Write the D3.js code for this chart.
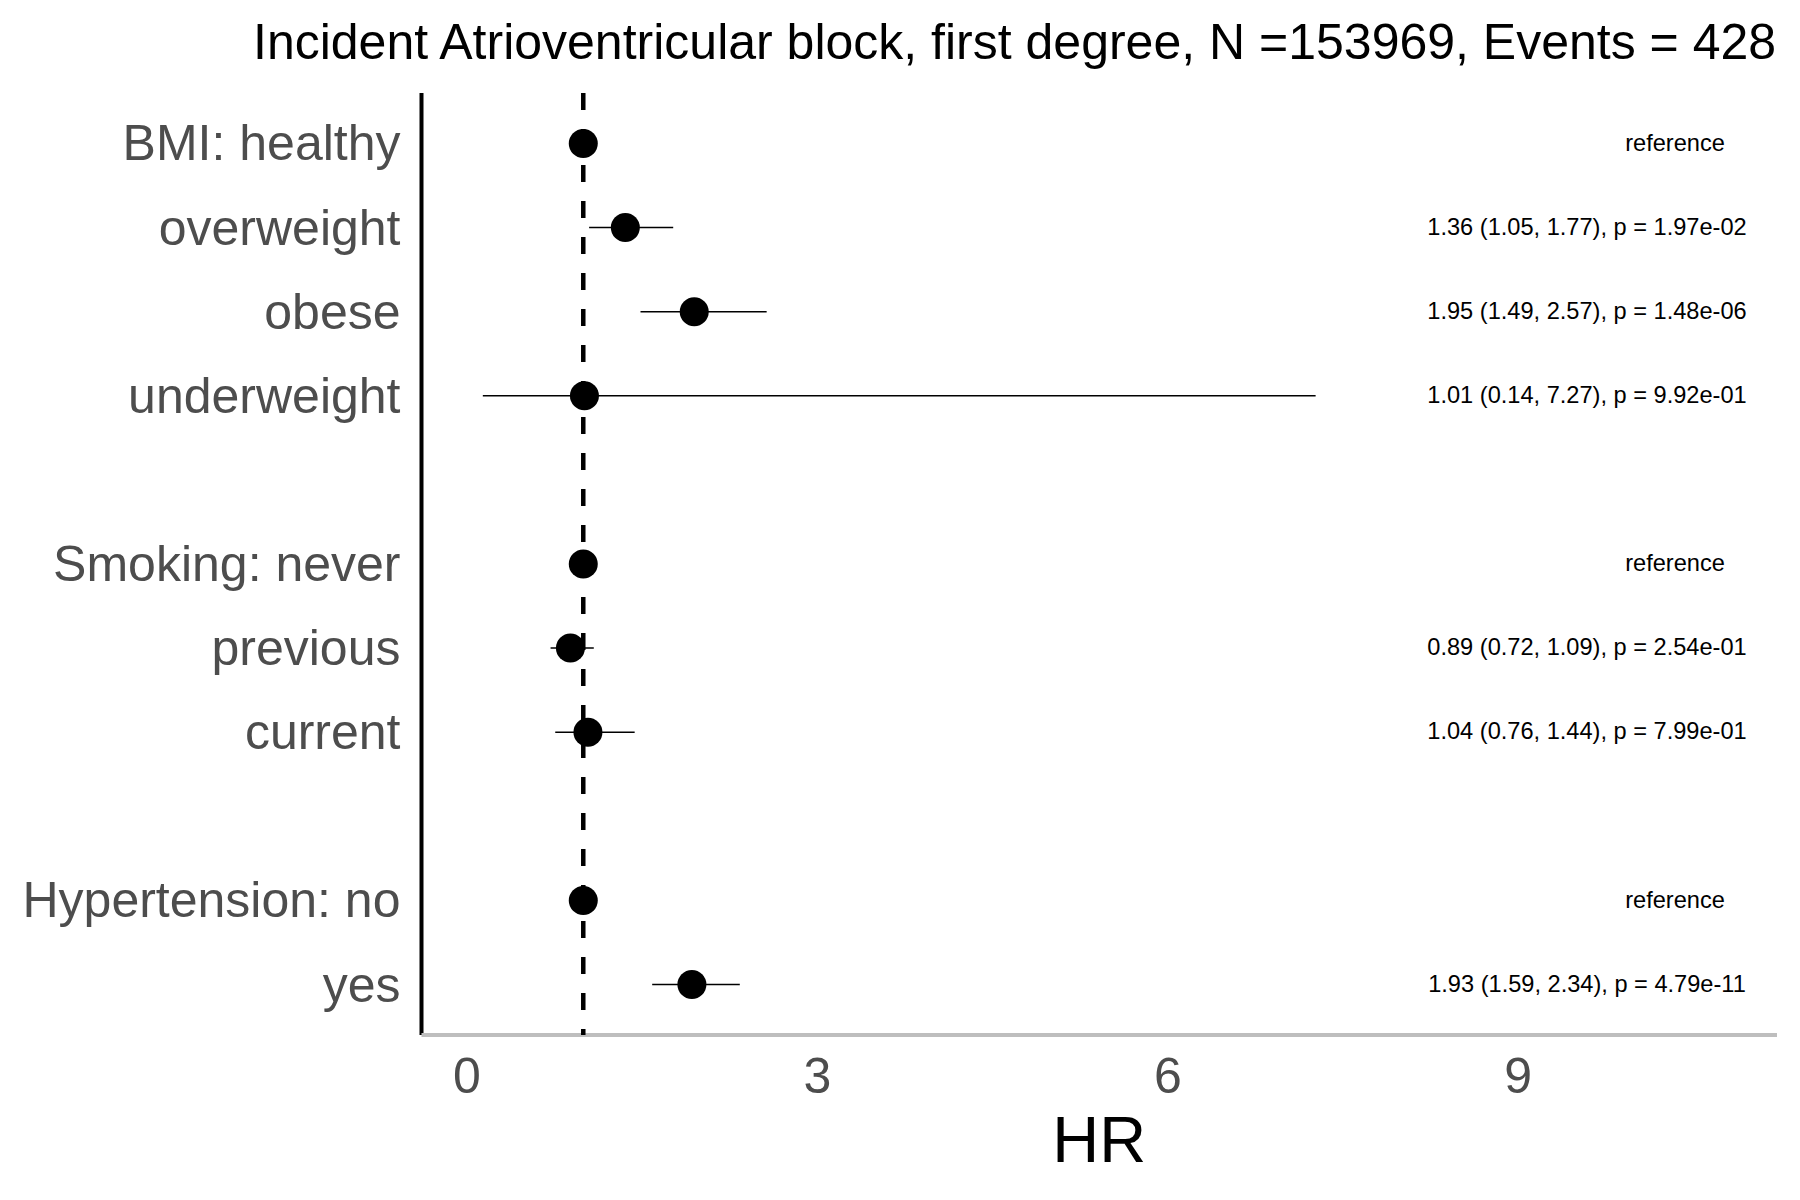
<!DOCTYPE html>
<html>
<head>
<meta charset="utf-8">
<script src="https://cdn.jsdelivr.net/npm/d3@7"></script>
<style>
  body { margin: 0; background: #fff; }
  text { font-family: "Liberation Sans", Arial, sans-serif; }
</style>
</head>
<body>
<svg id="forest" width="1800" height="1200"></svg>
<script>
/* data: one slot per row, blank slots are gaps */
const rowLabels = ["BMI: healthy", "overweight", "obese", "underweight", "",
  "Smoking: never", "previous", "current", "",
  "Hypertension: no", "yes"];
const hrValues = [1, 1.36, 1.95, 1.01, null, 1, 0.89, 1.04, null, 1, 1.93];
const ciLower = [null, 1.05, 1.49, 0.14, null, null, 0.72, 0.76, null, null, 1.59];
const ciUpper = [null, 1.77, 2.57, 7.27, null, null, 1.09, 1.44, null, null, 2.34];
const annotations = ["reference", "1.36 (1.05, 1.77), p = 1.97e-02",
  "1.95 (1.49, 2.57), p = 1.48e-06", "1.01 (0.14, 7.27), p = 9.92e-01", "",
  "reference", "0.89 (0.72, 1.09), p = 2.54e-01", "1.04 (0.76, 1.44), p = 7.99e-01", "",
  "reference", "1.93 (1.59, 2.34), p = 4.79e-11"];
const xTicks = [0, 3, 6, 9];
const titleText = "Incident Atrioventricular block, first degree, N =153969, Events = 428";

const svg = d3.select("#forest");
const panel = { left: 421.5, right: 1777, top: 93, bottom: 1035 };

const x = d3.scaleLinear().domain([-0.385, 11.22]).range([panel.left, panel.right]);
const y = d3.scalePoint().domain(d3.range(rowLabels.length))
  .range([panel.top, panel.bottom]).padding(0.6);

const rows = rowLabels.map((label, i) => ({
  i, label, hr: hrValues[i], lo: ciLower[i], hi: ciUpper[i], note: annotations[i]
}));

/* title */
svg.append("text").attr("x", 253).attr("y", 59)
  .attr("font-size", 50).attr("fill", "#000").text(titleText);

/* axes: black left line, grey bottom line, no tick marks */
const yAxis = svg.append("g").attr("transform", `translate(${panel.left},0)`)
  .call(d3.axisLeft(y).tickSize(0).tickPadding(21).tickFormat(i => rowLabels[i]));
yAxis.select(".domain").remove();
yAxis.selectAll("text").attr("font-size", 50).attr("fill", "#4D4D4D").attr("dy", "0.33em");
svg.append("line").attr("x1", panel.left).attr("x2", panel.left)
  .attr("y1", panel.top).attr("y2", panel.bottom).attr("stroke", "#000").attr("stroke-width", 4);

const xAxis = svg.append("g").attr("transform", `translate(0,${panel.bottom})`)
  .call(d3.axisBottom(x).tickValues(xTicks).tickSize(0).tickPadding(22));
xAxis.select(".domain").remove();
xAxis.selectAll("text").attr("font-size", 50).attr("fill", "#4D4D4D").attr("dy", "0.71em");
svg.append("line").attr("x1", panel.left).attr("x2", panel.right)
  .attr("y1", panel.bottom).attr("y2", panel.bottom).attr("stroke", "#BEBEBE").attr("stroke-width", 4);

svg.append("text").attr("x", (panel.left + panel.right) / 2).attr("y", 1162)
  .attr("text-anchor", "middle").attr("font-size", 65).attr("fill", "#000").text("HR");

/* reference line at HR = 1 */
svg.append("line").attr("x1", x(1)).attr("x2", x(1))
  .attr("y1", panel.top).attr("y2", panel.bottom)
  .attr("stroke", "#000").attr("stroke-width", 4.5).attr("stroke-dasharray", "17,19");

/* confidence intervals */
svg.selectAll("line.ci").data(rows.filter(d => d.lo != null)).join("line")
  .attr("class", "ci")
  .attr("x1", d => x(d.lo)).attr("x2", d => x(d.hi))
  .attr("y1", d => y(d.i)).attr("y2", d => y(d.i))
  .attr("stroke", "#000").attr("stroke-width", 1.5);

/* point estimates */
svg.selectAll("circle.hr").data(rows.filter(d => d.hr != null)).join("circle")
  .attr("class", "hr")
  .attr("cx", d => x(d.hr)).attr("cy", d => y(d.i)).attr("r", 14.5).attr("fill", "#000");

/* annotation column */
svg.selectAll("text.note").data(rows.filter(d => d.note)).join("text")
  .attr("class", "note")
  .attr("x", d => d.note === "reference" ? 1675 : 1587)
  .attr("y", d => y(d.i)).attr("dy", "0.3em")
  .attr("text-anchor", "middle").attr("font-size", 23.6).attr("fill", "#000")
  .text(d => d.note);
</script>
</body>
</html>
